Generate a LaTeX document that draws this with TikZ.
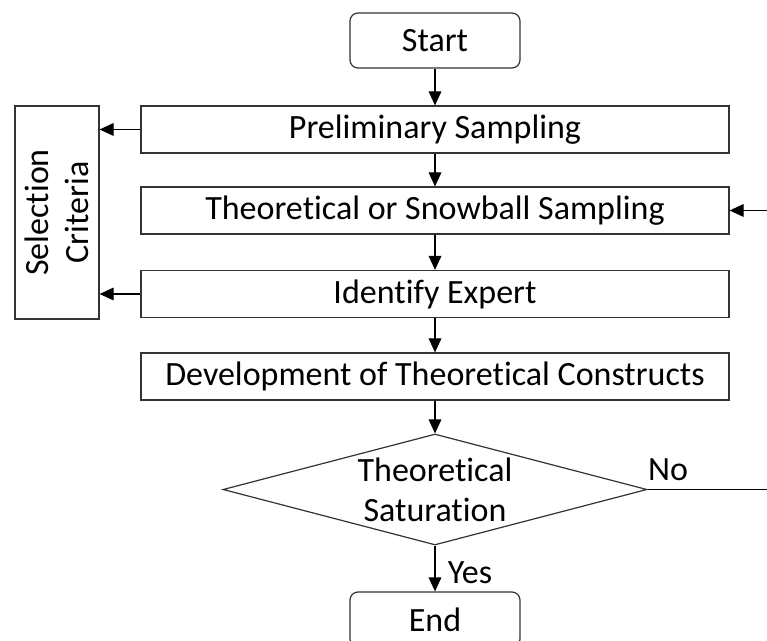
\documentclass[tikz,border=0pt]{standalone}
\usepackage{fontspec}
\setmainfont{Carlito}[Ligatures=NoCommon]
\usetikzlibrary{arrows.meta,shapes.geometric}
\tikzset{
  txt/.style={font=\fontsize{25.5}{30}\selectfont},
  procbox/.style={txt, draw=black!80, line width=0.9pt, minimum width=441pt, minimum height=35.25pt, inner sep=0pt},
  termbox/.style={txt, draw=black!80, line width=0.9pt, rounded corners=6pt, minimum width=127.5pt, minimum height=41.25pt, inner sep=0pt},
  sidebox/.style={txt, draw=black!80, line width=0.9pt, rotate=90, align=center, minimum width=159.75pt, minimum height=63pt, inner sep=0pt},
  decision/.style={draw=black!80, line width=0.9pt, diamond, minimum width=318pt, minimum height=83.25pt, inner sep=0pt},
  flow/.style={line width=0.9pt, -{Triangle[length=10.5pt,width=9.5pt]}},
  lbl/.style={txt, inner sep=0pt}
}
\begin{document}
\begin{tikzpicture}[x=0.75pt, y=-0.75pt]
  \useasboundingbox (0,0) rectangle (767,641);

  % main column
  \node[termbox] (start) at (435,40.5) {Start};
  \node[procbox] (prelim) at (435,129.5) {Preliminary Sampling};
  \node[procbox] (theo) at (435,210.5) {Theoretical or Snowball Sampling};
  \node[procbox] (ident) at (435,294) {Identify Expert};
  \node[procbox] (devel) at (435,376.5) {Development of Theoretical Constructs};
  \node[decision] (sat) at (435,489.5) {};
  \node[lbl, align=center] (sattext) at (sat.center) {Theoretical\\Saturation};
  \node[termbox] (end) at (435,619.5) {End};

  % side box
  \node[sidebox] (crit) at (57,212.5) {Selection\\Criteria};

  % branch labels
  \node[lbl] (no) at (668,470) {No};
  \node[lbl] (yes) at (470,573) {Yes};

  % connectors
  \draw[flow] (start) -- (prelim);
  \draw[flow] (prelim) -- (theo);
  \draw[flow] (theo) -- (ident);
  \draw[flow] (ident) -- (devel);
  \draw[flow] (devel) -- (sat);
  \draw[flow] (sat) -- (end);
  \draw[flow] (prelim.west) -- (prelim.west -| crit.south);
  \draw[flow] (ident.west) -- (ident.west -| crit.south);

  % loop back when not saturated
  \coordinate (loopbot) at (800,489.5);
  \coordinate (looptop) at (800,210.5);
  \draw[flow] (sat.east) -- (loopbot) -- (looptop) -- (theo.east);
\end{tikzpicture}
\end{document}
